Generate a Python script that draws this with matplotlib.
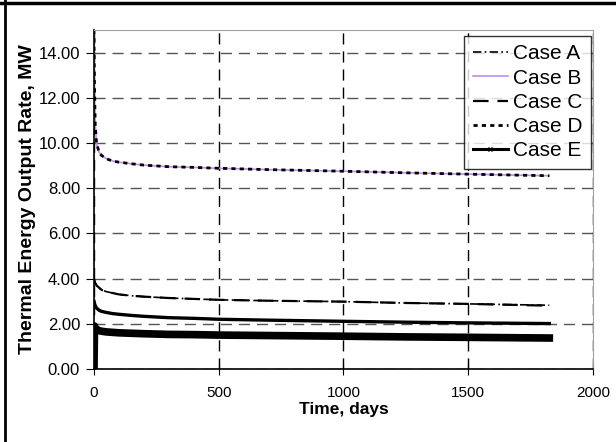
import numpy as np
import matplotlib
matplotlib.use('Agg')
import matplotlib.pyplot as plt
from matplotlib.lines import Line2D

plt.rcParams['font.family'] = ['Liberation Sans', 'DejaVu Sans']

# --- data ---
t = [0, 2, 5, 10, 20, 30, 50, 75, 100, 150, 200, 300, 400, 500, 700, 1000, 1250, 1500, 1825]

case_b = [15.0, 12.5, 10.8, 10.0, 9.6, 9.45, 9.3, 9.2, 9.15, 9.08, 9.02, 8.95, 8.92, 8.88, 8.82,
          8.75, 8.68, 8.62, 8.55]
case_d = [15.0, 12.5, 10.8, 10.0, 9.6, 9.45, 9.3, 9.2, 9.15, 9.08, 9.02, 8.95, 8.92, 8.88, 8.82,
          8.75, 8.68, 8.62, 8.55]
case_a = [4.0, 3.9, 3.8, 3.7, 3.6, 3.5, 3.42, 3.36, 3.3, 3.24, 3.2, 3.14, 3.1, 3.06, 3.02,
          2.98, 2.92, 2.88, 2.82]
case_c = [4.0, 3.9, 3.8, 3.7, 3.6, 3.5, 3.42, 3.36, 3.3, 3.24, 3.2, 3.14, 3.1, 3.06, 3.02,
          2.98, 2.92, 2.88, 2.80]
case_e_upper = [3.0, 2.9, 2.8, 2.7, 2.6, 2.55, 2.5, 2.45, 2.42, 2.37, 2.33, 2.27, 2.24, 2.2, 2.16,
                2.11, 2.07, 2.04, 2.01]
case_e = [0.0, 1.9, 1.8, 1.75, 1.7, 1.67, 1.64, 1.62, 1.6, 1.58, 1.56, 1.53, 1.52, 1.5, 1.48,
          1.45, 1.42, 1.4, 1.37]

xticks = [0, 500, 1000, 1500, 2000]
yticks = [0, 2, 4, 6, 8, 10, 12, 14]

fig = plt.figure(figsize=(6.16, 4.42), dpi=100)
ax = fig.add_axes([0.1526, 0.1652, 0.81, 0.767])

ax.plot(t, case_a, color='black', linestyle=(0, (5, 2, 1, 2)), linewidth=1.2, label='Case A')
ax.plot(t, case_b, color='#c08cf0', linestyle='-', linewidth=1.2, label='Case B')
ax.plot(t, case_c, color='black', linestyle=(0, (7, 4)), linewidth=1.6, label='Case C')
ax.plot(t, case_d, color='black', linestyle=(0, (1.5, 1.5)), linewidth=2.0, label='Case D')
ax.plot(t, case_e_upper, color='black', linestyle='-', linewidth=2.4)
ax.plot(t, case_e, color='black', linestyle='-', linewidth=5.5, marker='x', markersize=3,
        label='Case E')

ax.set_xlim(0, 2000)
ax.set_ylim(0, 15)
ax.set_xticks(xticks)
ax.set_yticks(yticks)
ax.set_yticklabels([f'{v:.2f}' for v in yticks])
ax.tick_params(axis='y', direction='out', length=6, labelsize=12, pad=4)
ax.tick_params(axis='x', direction='inout', length=9, labelsize=11, pad=8)

ax.grid(axis='y', color='#555555', linestyle=(0, (8, 5)), linewidth=1.0)
ax.grid(axis='x', color='black', linestyle=(0, (8, 5)), linewidth=1.0)

for side in ['top', 'right']:
    ax.spines[side].set_color('#a0a0a0')
for side in ['left', 'bottom']:
    ax.spines[side].set_color('black')
    ax.spines[side].set_linewidth(1.2)

ax.set_xlabel('Time, days', fontsize=12.5, fontweight='bold', labelpad=1)
ax.set_ylabel('Thermal Energy Output Rate, MW', fontsize=14, fontweight='bold', labelpad=2)

leg = ax.legend(loc='upper right', bbox_to_anchor=(0.996, 0.982), fontsize=15, frameon=True,
                fancybox=False, edgecolor='black', handlelength=1.7, handletextpad=0.25,
                labelspacing=0.25, borderpad=0.4, borderaxespad=0.0)
leg.get_frame().set_linewidth(1.0)
leg.legend_handles[-1].set_linewidth(2.2)

# outer frame lines of the figure
fig.add_artist(Line2D([0, 1], [0.993, 0.993], transform=fig.transFigure, color='black', linewidth=2.5))
fig.add_artist(Line2D([0.008, 0.008], [0, 1], transform=fig.transFigure, color='black', linewidth=2.0))

fig.savefig('out.png', dpi=100)
